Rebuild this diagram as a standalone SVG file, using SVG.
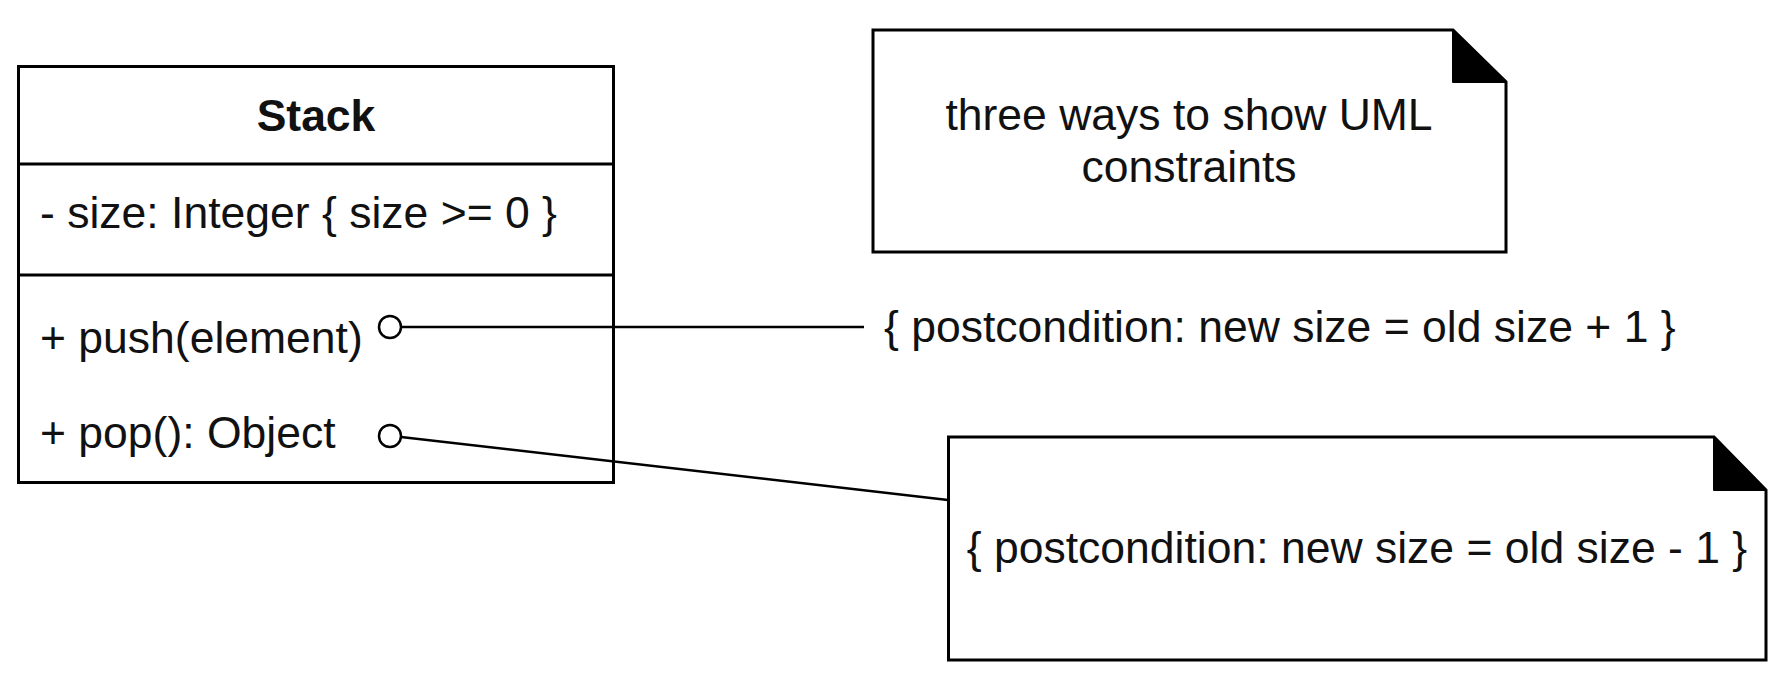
<svg xmlns="http://www.w3.org/2000/svg" width="1790" height="688" viewBox="0 0 1790 688">
<style>
  .box { fill: #ffffff; stroke: #000000; stroke-width: 3; }
  .line { fill: none; stroke: #000000; stroke-width: 2.5; }
  .port { fill: #ffffff; stroke: #000000; stroke-width: 2.5; }
  .fold { fill: #000000; stroke: #000000; stroke-width: 2; stroke-linejoin: round; }
  .t { font-family: "Liberation Sans", Arial, Helvetica, sans-serif; font-size: 44.5px; fill: #111111; }
  .b { font-weight: bold; }
  .m { text-anchor: middle; }
</style>
<rect width="1790" height="688" fill="#ffffff"/>
<g id="stack">
  <rect class="box" x="18.5" y="66.5" width="595" height="416"/>
  <line class="line" x1="18.5" y1="164" x2="613.5" y2="164" style="stroke-width:3"/>
  <line class="line" x1="18.5" y1="275" x2="613.5" y2="275" style="stroke-width:3"/>
  <text class="t b m" x="316" y="131">Stack</text>
  <text class="t" x="40" y="228">- size: Integer { size &gt;= 0 }</text>
  <text class="t" x="40" y="353">+ push(element)</text>
  <text class="t" x="40" y="448">+ pop(): Object</text>
</g>
<g id="push-constraint">
  <text class="t" x="884" y="342">{ postcondition: new size = old size + 1 }</text>
</g>
<g id="note-title">
  <path class="box" d="M873,30 H1453 L1506,82 V252 H873 Z"/>
  <path class="fold" d="M1453,30 V82 H1506 Z"/>
  <text class="t m" x="1189" y="130">three ways to show UML</text>
  <text class="t m" x="1189" y="182">constraints</text>
</g>
<g id="note-pop">
  <path class="box" d="M948.5,437 H1714 L1766,490 V660 H948.5 Z"/>
  <path class="fold" d="M1714,437 V490 H1766 Z"/>
  <text class="t m" x="1357" y="563">{ postcondition: new size = old size - 1 }</text>
</g>
<g id="connectors">
  <line class="line" x1="401" y1="327" x2="864" y2="327"/>
  <line class="line" x1="401" y1="437" x2="948" y2="500"/>
  <circle class="port" cx="390" cy="327" r="11"/>
  <circle class="port" cx="390" cy="436" r="11"/>
</g>
</svg>
